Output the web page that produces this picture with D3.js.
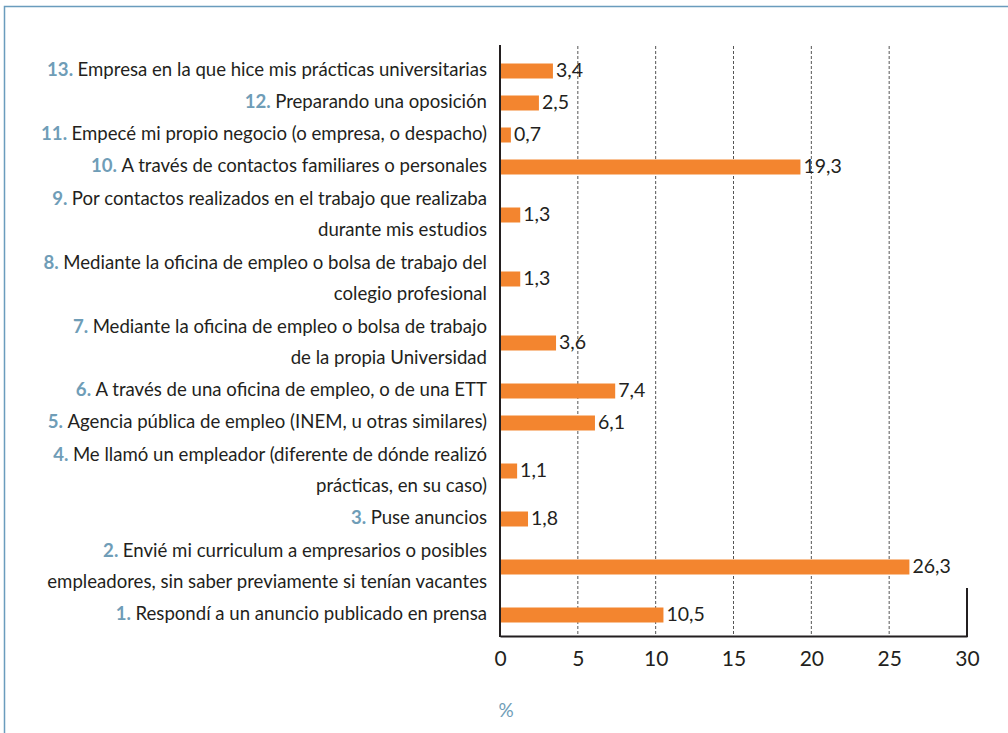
<!DOCTYPE html>
<html>
<head>
<meta charset="utf-8">
<script src="https://cdn.jsdelivr.net/npm/d3@7"></script>
<style>
  html, body { margin: 0; padding: 0; background: #fff; }
  svg { display: block; }
  text { font-family: Lato, "Open Sans", sans-serif; }
</style>
</head>
<body>
<svg id="chart" width="1008" height="733"></svg>
<script>
// Numbered answers, top to bottom; each entry is one line of the label
const numbers = ["13.", "12.", "11.", "10.", "9.", "8.", "7.", "6.", "5.", "4.", "3.", "2.", "1."];
const labelLines = [
  ["Empresa en la que hice mis prácticas universitarias"],
  ["Preparando una oposición"],
  ["Empecé mi propio negocio (o empresa, o despacho)"],
  ["A través de contactos familiares o personales"],
  ["Por contactos realizados en el trabajo que realizaba", "durante mis estudios"],
  ["Mediante la oficina de empleo o bolsa de trabajo del", "colegio profesional"],
  ["Mediante la oficina de empleo o bolsa de trabajo", "de la propia Universidad"],
  ["A través de una oficina de empleo, o de una ETT"],
  ["Agencia pública de empleo (INEM, u otras similares)"],
  ["Me llamó un empleador (diferente de dónde realizó", "prácticas, en su caso)"],
  ["Puse anuncios"],
  ["Envié mi curriculum a empresarios o posibles", "empleadores, sin saber previamente si tenían vacantes"],
  ["Respondí a un anuncio publicado en prensa"]
];
const values = [3.4, 2.5, 0.7, 19.3, 1.3, 1.3, 3.6, 7.4, 6.1, 1.1, 1.8, 26.3, 10.5];
const xTicks = [0, 5, 10, 15, 20, 25, 30];
const unitLabel = "%";

const COLORS = {
  bar: "#f3852f",
  text: "#231f20",
  number: "#6f9db7",
  frame: "#6a9cbd",
  grid: "#555"
};

const svg = d3.select("#chart");

// Each row takes as many vertical units as its label has lines
let acc = 0;
const rows = numbers.map((n, i) => {
  const units = labelLines[i].length;
  const r = { num: n, lines: labelLines[i], value: values[i], mid: acc + units / 2 };
  acc += units;
  return r;
});
const totalUnits = acc;

const x = d3.scaleLinear().domain([0, 30]).range([500, 967]);
const y = d3.scaleLinear().domain([0, totalUnits]).range([55, 631]);
const axisY = 636;
const barH = 15;

// Outer frame (top and left edges)
svg.append("path")
  .attr("d", "M4.5,733 V6.5 H1008")
  .attr("fill", "none")
  .attr("stroke", COLORS.frame)
  .attr("stroke-width", 1.5);

// Dashed vertical gridlines
svg.append("g").selectAll("line")
  .data(xTicks.filter(t => t > 0 && t < 30))
  .join("line")
  .attr("x1", d => x(d)).attr("x2", d => x(d))
  .attr("y1", 46).attr("y2", axisY)
  .attr("stroke", COLORS.grid)
  .attr("stroke-width", 1)
  .attr("stroke-dasharray", "3,2");

// Bars
svg.append("g").selectAll("rect")
  .data(rows)
  .join("rect")
  .attr("x", x(0))
  .attr("y", d => y(d.mid) - barH / 2)
  .attr("width", d => x(d.value) - x(0))
  .attr("height", barH)
  .attr("fill", COLORS.bar);

// Value labels
svg.append("g").selectAll("text")
  .data(rows)
  .join("text")
  .attr("x", d => x(d.value) + 3)
  .attr("y", d => y(d.mid) + 1)
  .attr("dominant-baseline", "middle")
  .attr("font-size", 19.5)
  .attr("fill", COLORS.text)
  .text(d => d.value.toFixed(1).replace(".", ","));

// Category labels (right aligned, number in blue)
const lab = svg.append("g").selectAll("g")
  .data(rows)
  .join("g");
lab.each(function (d) {
  const g = d3.select(this);
  const n = d.lines.length;
  d.lines.forEach((line, k) => {
    const cy = y(d.mid) + (k - (n - 1) / 2) * 31;
    const t = g.append("text")
      .attr("x", 487)
      .attr("y", cy)
      .attr("dominant-baseline", "middle")
      .attr("text-anchor", "end")
      .attr("font-size", 18.6)
      .attr("fill", COLORS.text);
    if (k === 0) {
      t.append("tspan")
        .attr("fill", COLORS.number)
        .attr("font-weight", "bold")
        .text(d.num + " ");
    }
    t.append("tspan").text(line);
  });
});

// X axis
const xAxis = d3.axisBottom(x)
  .tickValues(xTicks)
  .tickSize(0)
  .tickPadding(15)
  .tickFormat(d3.format("d"));
const ax = svg.append("g")
  .attr("transform", `translate(0,${axisY})`)
  .call(xAxis);
ax.select(".domain").attr("stroke", COLORS.text).attr("stroke-width", 2);
ax.selectAll(".tick text")
  .attr("font-size", 21)
  .attr("fill", COLORS.text)
  .attr("font-family", "Lato, 'Open Sans', sans-serif");

// Left axis line and right closing edge
svg.append("line")
  .attr("x1", x(0)).attr("x2", x(0))
  .attr("y1", 45).attr("y2", axisY + 1)
  .attr("stroke", COLORS.text).attr("stroke-width", 2);
svg.append("line")
  .attr("x1", x(30)).attr("x2", x(30))
  .attr("y1", 588).attr("y2", axisY + 1)
  .attr("stroke", COLORS.text).attr("stroke-width", 2);

// Unit label
svg.append("text")
  .attr("x", x(0) + 6)
  .attr("y", 712)
  .attr("dominant-baseline", "middle")
  .attr("text-anchor", "middle")
  .attr("font-size", 19)
  .attr("fill", COLORS.number)
  .text(unitLabel);
</script>
</body>
</html>
